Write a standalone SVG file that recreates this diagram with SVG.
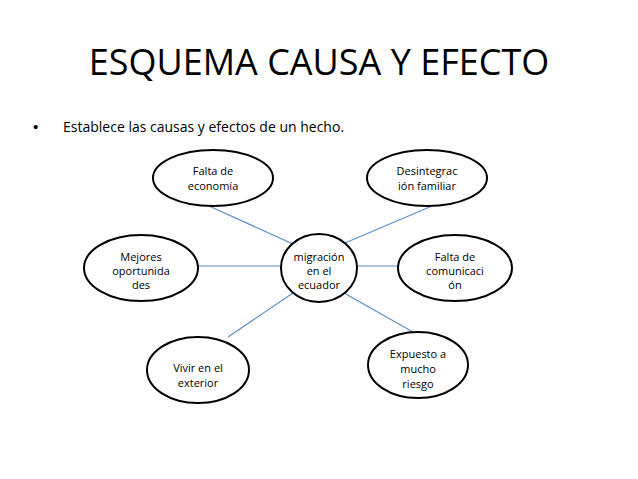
<svg xmlns="http://www.w3.org/2000/svg" width="638" height="479" viewBox="0 0 638 479">
<style>
.n ellipse{fill:#fff;stroke:#000;stroke-width:2}
.n text{font-family:"Open Sans","Liberation Sans",sans-serif;font-size:11px;text-anchor:middle;fill:#000}
#c line{stroke:#5b8ec8;stroke-width:1.2}
</style>
<rect width="638" height="479" fill="#fff"/>
<text x="319" y="75" font-family="'Open Sans','Liberation Sans',sans-serif" font-size="36" text-anchor="middle">ESQUEMA CAUSA Y EFECTO</text>
<text x="33" y="132" font-family="'Liberation Sans',sans-serif" font-size="15">•</text>
<text x="63" y="132" font-family="'Open Sans','Liberation Sans',sans-serif" font-size="14">Establece las causas y efectos de un hecho.</text>
<g id="c">
<line x1="209" y1="206" x2="293" y2="244"/>
<line x1="432" y1="206" x2="345" y2="243"/>
<line x1="198" y1="266" x2="281" y2="266"/>
<line x1="357" y1="266" x2="398" y2="266"/>
<line x1="228" y1="337" x2="293" y2="293"/>
<line x1="413" y1="332" x2="344" y2="293"/>
</g>
<g id="center" class="n"><ellipse cx="319" cy="268" rx="38" ry="34"/><text x="319" y="261">migración</text><text x="319" y="275">en el</text><text x="319" y="289">ecuador</text></g>
<g id="economia" class="n"><ellipse cx="213" cy="178" rx="60" ry="28"/><text x="213" y="175">Falta de</text><text x="213" y="190">economía</text></g>
<g id="desintegracion" class="n"><ellipse cx="427" cy="178" rx="60" ry="28"/><text x="427" y="175">Desintegrac</text><text x="427" y="190">ión familiar</text></g>
<g id="mejores" class="n"><ellipse cx="141" cy="268" rx="57" ry="33"/><text x="141" y="261">Mejores</text><text x="141" y="275">oportunida</text><text x="141" y="289">des</text></g>
<g id="comunicacion" class="n"><ellipse cx="455" cy="268" rx="57" ry="33"/><text x="455" y="261">Falta de</text><text x="455" y="275">comunicaci</text><text x="455" y="289">ón</text></g>
<g id="exterior" class="n"><ellipse cx="198" cy="370" rx="51" ry="33"/><text x="198" y="372">Vivir en el</text><text x="198" y="387">exterior</text></g>
<g id="riesgo" class="n"><ellipse cx="418" cy="365" rx="50" ry="33"/><text x="418" y="358">Expuesto a</text><text x="418" y="373">mucho</text><text x="418" y="388">riesgo</text></g>
</svg>
